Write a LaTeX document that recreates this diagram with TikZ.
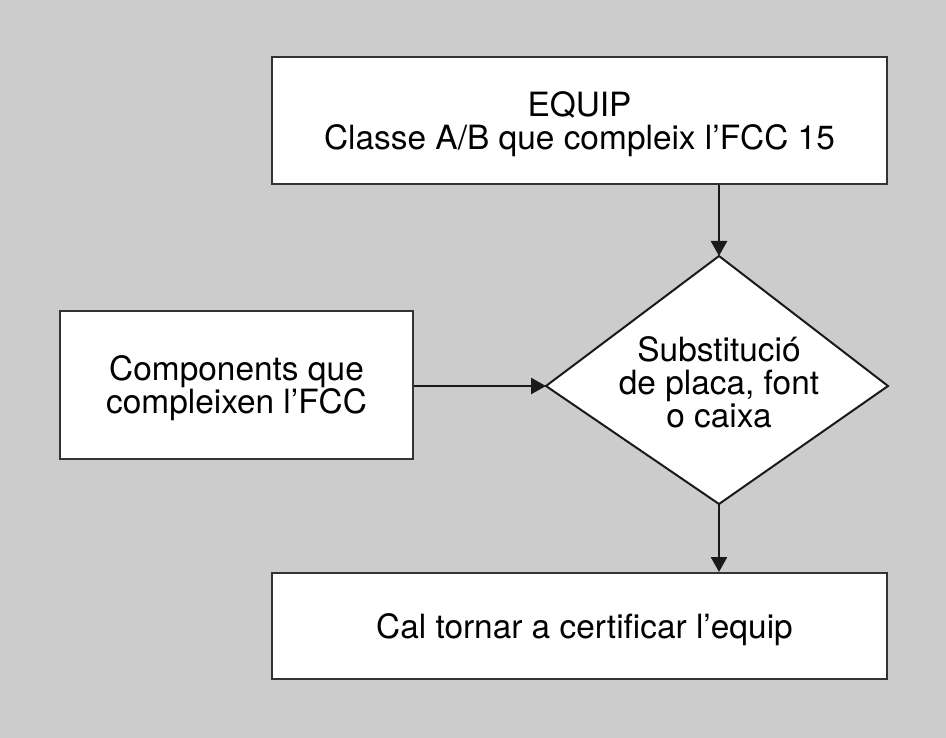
\documentclass[tikz,border=0pt]{standalone}
\usepackage{fontspec}
\setmainfont{TeX Gyre Heros}
\usetikzlibrary{arrows.meta}
\definecolor{bg}{HTML}{CCCCCC}
\definecolor{edge}{HTML}{333333}
\definecolor{ink}{HTML}{1A1A1A}
\begin{document}
\begin{tikzpicture}[x=1pt,y=-1pt,
  lbl/.style={font=\fontsize{33.4pt}{33pt}\selectfont, align=center, text depth=0pt, inner sep=0pt},
  box/.style={lbl, draw=edge, line width=2pt, fill=white},
  arr/.style={draw=ink, line width=2.5pt, -{Triangle[length=15pt,width=16pt]}}]
\fill[bg] (0,0) rectangle (946,738);
\useasboundingbox (0,0) rectangle (946,738);
% boxes
\node[box, minimum width=615pt, minimum height=127pt] (top) at (579.5,120.5)
  {EQUIP\\Classe A/B que compleix l’FCC 15};
\node[box, minimum width=353pt, minimum height=148pt] (left) at (236.5,385)
  {Components que\\compleixen l’FCC};
\node[box, minimum width=615pt, minimum height=106pt] (bot) at (579.5,626)
  {\hspace*{10pt}Cal tornar a certificar l’equip};
% decision diamond
\coordinate (dT) at (719,256);
\coordinate (dR) at (888,386);
\coordinate (dB) at (719,504);
\coordinate (dL) at (546,386);
\draw[draw=ink, line width=2pt, fill=white, line join=miter] (dT) -- (dR) -- (dB) -- (dL) -- cycle;
\node[lbl] (dtext) at (719,382.5) {Substitució\\de placa, font\\o caixa};
% connectors
\draw[arr] (top.south -| dT) -- (dT);
\draw[arr] (left.east |- dL) -- (dL);
\draw[arr] (dB) -- (dB |- bot.north);
\end{tikzpicture}
\end{document}
